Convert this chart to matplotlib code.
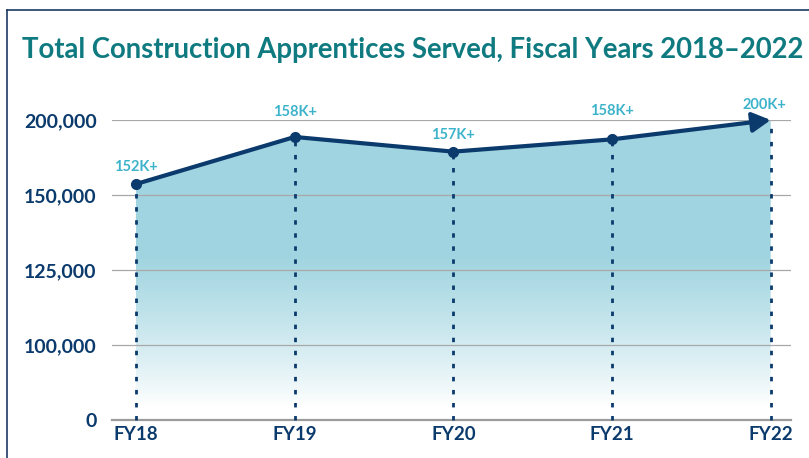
import numpy as np
import matplotlib
matplotlib.use("Agg")
import matplotlib.pyplot as plt
from matplotlib.lines import Line2D

# data (positions, labels as printed)
years = ["FY18", "FY19", "FY20", "FY21", "FY22"]
apprentices = [157300, 188700, 178900, 187100, 200000]
point_labels = ["152K+", "158K+", "157K+", "158K+", "200K+"]
y_ticks = [0, 100000, 125000, 150000, 200000]

navy = "#0b3a6c"
teal_title = "#0f7a80"
label_blue = "#3db3cb"
fill_top = np.array([0.63, 0.835, 0.88])

plt.rcParams["font.family"] = ["Lato", "DejaVu Sans"]

# the y axis puts the ticks at equal spacing, so map values piecewise
brk_vals = [-100000, 0, 100000, 125000, 150000, 200000, 250000]
brk_pos = [-1, 0, 1, 2, 3, 4, 5]


def fwd(v):
    return np.interp(v, brk_vals, brk_pos)


def inv(p):
    return np.interp(p, brk_pos, brk_vals)


fig = plt.figure(figsize=(8.09, 4.58), dpi=100)
W, H = 809, 458
ax = fig.add_axes([112 / W, (H - 420) / H, (791 - 112) / W, 300 / H])
ax.set_yscale("function", functions=(fwd, inv))

x = np.arange(len(years))

# gradient area under the line
fill = ax.fill_between(x, apprentices, 0, color="none", lw=0)
ay = np.linspace(1, 0, 300)
t = np.clip((ay - 0.05) / (0.54 - 0.05), 0, 1) ** 0.85
grad = 1 - t[:, None] * (1 - fill_top[None, :])
grad = np.repeat(grad[:, None, :], 2, axis=1)
img = ax.imshow(grad, extent=(0, 1, 0, 1), transform=ax.transAxes,
                aspect="auto", zorder=1, interpolation="bilinear")
img.set_clip_path(fill.get_paths()[0], ax.transData)

# dotted drop lines
for xi, v in zip(x, apprentices):
    ax.plot([xi, xi], [0, v], color=navy, lw=2, ls=(0, (1.6, 3.1)),
            dash_capstyle="butt", zorder=3, clip_on=False)

# line + markers + arrow head
ax.plot(x[:4], apprentices[:4], color=navy, lw=3, marker="o", ms=7,
        zorder=5, clip_on=False, solid_capstyle="round")
ax.annotate("", xy=(x[4], apprentices[4]), xytext=(x[3], apprentices[3]),
            arrowprops=dict(arrowstyle="-|>,head_length=0.55,head_width=0.3",
                            color=navy, lw=3, shrinkA=0, shrinkB=0,
                            mutation_scale=20),
            zorder=5, annotation_clip=False)

# value labels
offsets = [(0, 17), (0, 25), (0, 17), (0, 28), (-6, 15)]
for xi, v, lab, off in zip(x, apprentices, point_labels, offsets):
    ax.annotate(lab, (xi, v), xytext=off, textcoords="offset pixels",
                ha="center", va="center", color=label_blue,
                fontsize=10.5, fontweight="bold", zorder=6, annotation_clip=False)

ax.set_xlim(-0.151, 4.128)
ax.set_ylim(0, 200000)
ax.set_yticks(y_ticks)
ax.set_yticklabels([f"{v:,}" for v in y_ticks])
ax.set_xticks(x)
ax.set_xticklabels(years)
ax.tick_params(length=0, colors=navy)
ax.tick_params(axis="y", pad=11, labelsize=14)
ax.tick_params(axis="x", pad=4, labelsize=13.5)
for lab in ax.get_xticklabels() + ax.get_yticklabels():
    lab.set_fontweight("bold")
for s in ax.spines.values():
    s.set_visible(False)
ax.grid(axis="y", color="#a8a8a8", lw=0.9, zorder=0)
ax.grid(axis="x", visible=False)
ax.axhline(0, color="#9c9c9c", lw=1.6, zorder=2, clip_on=False)

fig.text(22 / W, 1 - 50 / H, "Total Construction Apprentices Served, Fiscal Years 2018–2022",
         color=teal_title, fontsize=19.8, fontweight="bold", ha="left", va="center")

# outer frame (runs off right and bottom edges)
fig.add_artist(Line2D([6.5 / W, 6.5 / W], [0, 1 - 10 / H], color="#1d3a63", lw=1.2))
fig.add_artist(Line2D([6.5 / W, 1], [1 - 10 / H, 1 - 10 / H], color="#1d3a63", lw=1.2))

fig.savefig("out.png", dpi=100)
